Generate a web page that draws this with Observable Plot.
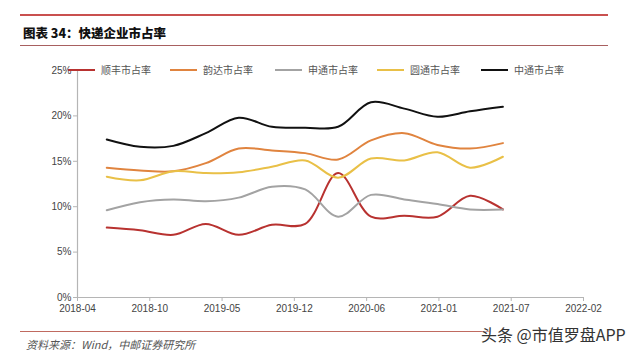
<!DOCTYPE html>
<html><head><meta charset="utf-8">
<script src="https://cdn.jsdelivr.net/npm/d3@7"></script>
<script src="https://cdn.jsdelivr.net/npm/@observablehq/plot@0.6"></script>
<style>
html,body{margin:0;padding:0;background:#fff;}
#page{position:relative;width:640px;height:357px;overflow:hidden;font-family:"Liberation Sans",Arial,sans-serif;}
.abs{position:absolute;}
#topline{left:20px;top:14px;width:588px;height:2px;background:#c9504f;}
#title{left:23px;top:23px;font-family:"Noto Sans CJK SC",sans-serif;font-weight:900;font-size:12.5px;color:#111;white-space:nowrap;}
#subline{left:20px;top:45px;width:588px;height:1px;background:#a86060;}
#chart{left:0;top:50px;}
.lg{position:absolute;top:63px;height:14px;}
.lg .ln{position:absolute;left:0;top:6px;width:27px;height:2px;}
.lg .tx{position:absolute;left:33px;top:-1px;font-family:"Noto Sans CJK SC",sans-serif;font-size:10px;color:#555;white-space:nowrap;}
#botline{left:20px;top:331px;width:470px;height:1px;background:#c06a60;}
#caption{left:26px;top:336px;font-family:"Noto Sans CJK SC",sans-serif;font-size:11px;font-style:italic;color:#555;white-space:nowrap;}
#wm{left:481px;top:322px;font-family:"Noto Sans CJK SC",sans-serif;font-size:16px;color:#333;white-space:nowrap;text-shadow:0 0 2px #fff,0 0 2px #fff;}
</style></head>
<body>
<div id="page">
  <div id="topline" class="abs"></div>
  <div id="title" class="abs">图表 34：快递企业市占率</div>
  <div id="subline" class="abs"></div>
  <div id="chart" class="abs"></div>
  <div id="legend"></div>
  <div id="botline" class="abs"></div>
  <div id="caption" class="abs">资料来源：Wind，中邮证券研究所</div>
  <div id="wm" class="abs">头条 @市值罗盘APP</div>
</div>
<script>
// ---- data ----
const quarters = ["2018-06-30","2018-09-30","2018-12-31","2019-03-31","2019-06-30","2019-09-30","2019-12-31","2020-03-31","2020-06-30","2020-09-30","2020-12-31","2021-03-31","2021-06-30"];
const seriesNames = ["顺丰市占率","韵达市占率","申通市占率","圆通市占率","中通市占率"];
const shunfeng = [7.7,7.4,6.9,8.1,6.9,8.0,8.1,13.7,8.9,9.0,8.9,11.2,9.7];
const yunda    = [14.3,14.0,13.9,14.8,16.4,16.2,15.9,15.2,17.3,18.1,16.8,16.4,17.0];
const shentong = [9.6,10.5,10.8,10.6,11.0,12.2,11.9,8.9,11.3,10.8,10.3,9.7,9.7];
const yuantong = [13.3,12.9,13.9,13.7,13.8,14.4,15.1,13.2,15.3,15.1,16.0,14.3,15.5];
const zhongtong= [17.4,16.6,16.7,18.1,19.8,18.8,18.7,18.8,21.5,20.8,19.9,20.5,21.0];
const seriesColors = ["#b83230","#e0843f","#a3a3a3","#e9c047","#111111"];
const tickDates = ["2018-04-10","2018-10-27","2019-05-15","2019-12-01","2020-06-18","2021-01-04","2021-07-23","2022-02-08"];
const yTicks = [0,5,10,15,20,25];

const seriesValues = [shunfeng, yunda, shentong, yuantong, zhongtong];
const rows = [];
seriesNames.forEach((name, si) => {
  quarters.forEach((q, i) => rows.push({series: name, date: new Date(q), value: seriesValues[si][i]}));
});
const tickD = tickDates.map(d => new Date(d));

const chart = Plot.plot({
  width: 640, height: 270,
  marginTop: 20, marginBottom: 23, marginLeft: 77, marginRight: 57,
  style: {fontFamily: '"Liberation Sans", Arial, sans-serif', fontSize: "10px", color: "#444", background: "transparent"},
  x: {type: "utc", domain: [tickD[0], tickD[tickD.length-1]]},
  y: {domain: [0, 25]},
  color: {domain: seriesNames, range: seriesColors},
  marks: [
    Plot.ruleX([tickD[0]], {y1: 0, y2: 25, stroke: "#b5b5b5", strokeWidth: 1.2}),
    Plot.ruleY([0], {stroke: "#b5b5b5", strokeWidth: 1.2}),
    Plot.axisX({ticks: tickD, tickFormat: d3.utcFormat("%Y-%m"), tickSize: 4, tickPadding: 3, label: null, stroke: "#b5b5b5", fill: "#444", fontSize: 10}),
    Plot.axisY({ticks: yTicks, tickFormat: d => d + "%", tickSize: 4, tickPadding: 2, label: null, stroke: "#b5b5b5", fill: "#444", fontSize: 10}),
    Plot.line(rows, {x: "date", y: "value", z: "series", stroke: "series", strokeWidth: 2, curve: "catmull-rom"})
  ]
});
document.getElementById("chart").appendChild(chart);

// legend
const lefts = [68, 170, 275, 377, 481];
seriesNames.forEach((n, i) => {
  const d = document.createElement("div");
  d.className = "lg"; d.style.left = lefts[i] + "px";
  d.innerHTML = `<div class="ln" style="background:${seriesColors[i]}"></div><div class="tx">${n}</div>`;
  document.getElementById("page").appendChild(d);
});
</script>
</body></html>
